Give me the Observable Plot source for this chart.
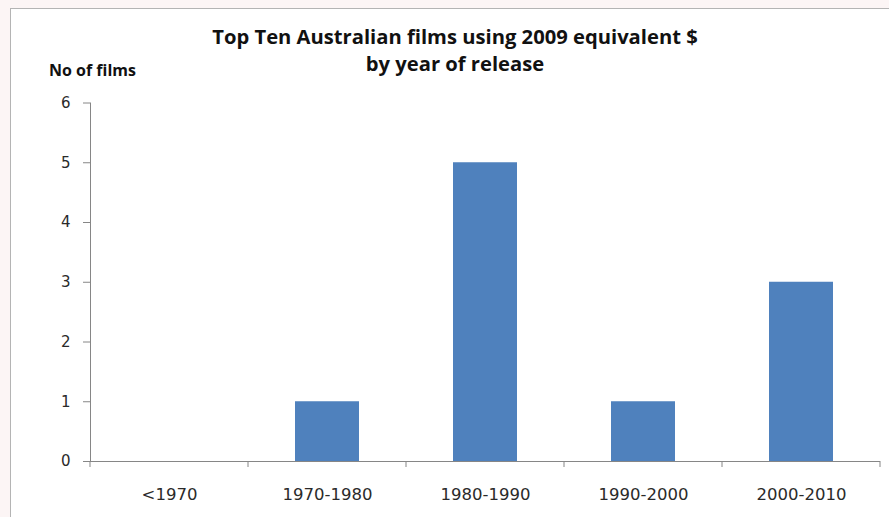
<!DOCTYPE html>
<html><head><meta charset="utf-8">
<script src="https://cdn.jsdelivr.net/npm/d3@7"></script>
<script src="https://cdn.jsdelivr.net/npm/@observablehq/plot@0.6"></script>
<style>
html,body{margin:0;padding:0;background:#fcf5f5;width:889px;height:517px;overflow:hidden}
#card{position:absolute;left:10px;top:8px;width:879px;height:509px;background:#fff;border-left:1px solid #b4b4b4;border-top:1px solid #b4b4b4;}
#chart{position:absolute;left:0;top:0}
#chart svg text{font-family:"DejaVu Sans"}
#title{position:absolute;left:0;width:888px;top:13.5px;text-align:center;font-family:"Open Sans";font-weight:bold;font-size:20.2px;line-height:27px;color:#111}
#ylab{position:absolute;left:38px;top:52.5px;font-family:"Open Sans";font-weight:bold;font-size:16px;line-height:16px;color:#111;white-space:nowrap}
</style></head>
<body>
<div id="card">
  <div id="chart"></div>
  <div id="title">Top Ten Australian films using 2009 equivalent $<br>by year of release</div>
  <div id="ylab">No of films</div>
</div>
<script>
const categories = ["<1970", "1970-1980", "1980-1990", "1990-2000", "2000-2010"];
const counts = [0, 1, 5, 1, 3];
const yTicks = [0, 1, 2, 3, 4, 5, 6];

const data = categories.map((c, i) => ({cat: c, n: counts[i]}));
const axisColor = "#868686";

const boundaryTicks = (index, scales) => {
  const x = scales.x, bw = x.bandwidth();
  const xs = categories.map(c => x(c)).concat([x(categories[categories.length - 1]) + bw]);
  const y0 = scales.y(0);
  const g = d3.create("svg:g");
  g.selectAll("line").data(xs).join("line")
    .attr("x1", d => d).attr("x2", d => d)
    .attr("y1", y0).attr("y2", y0 + 6)
    .attr("stroke", axisColor);
  return g.node();
};

const chart = Plot.plot({
  width: 878,
  height: 508,
  marginLeft: 79,
  marginRight: 9,
  marginTop: 93.5,
  marginBottom: 56,
  style: {fontFamily: "DejaVu Sans", background: "transparent"},
  x: {domain: categories, padding: 0, label: null},
  y: {domain: [0, 6], label: null},
  marks: [
    Plot.barY(data, {x: "cat", y: "n", fill: "#4f81bd", insetLeft: 47, insetRight: 47}),
    Plot.frame({anchor: "left", stroke: axisColor}),
    Plot.ruleY([0], {stroke: axisColor}),
    Plot.axisY(yTicks, {tickSize: 7, tickPadding: 13, tickFormat: d3.format("d"), stroke: axisColor, fill: "#2a2a2a", fontSize: 15, fontFamily: "DejaVu Sans", label: null}),
    Plot.axisX({tickSize: 0, tickPadding: 27, fill: "#2a2a2a", fontSize: 16.5, fontFamily: "DejaVu Sans", label: null}),
    boundaryTicks
  ]
});
document.getElementById("chart").appendChild(chart);
</script>
</body></html>
